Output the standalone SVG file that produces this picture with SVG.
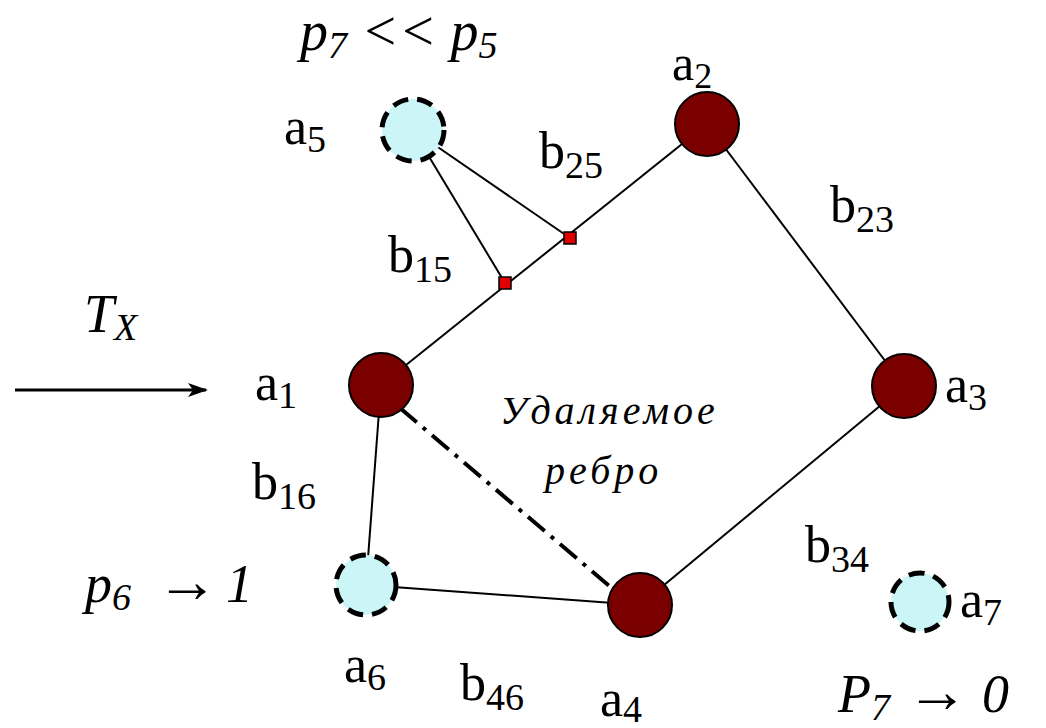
<svg xmlns="http://www.w3.org/2000/svg" width="1046" height="728" viewBox="0 0 1046 728">
<defs>
<style>
.e{stroke:#000;stroke-width:2;fill:none}
.dk{fill:#7a0000;stroke:#000;stroke-width:2}
.lt{fill:#ccf5f7;stroke:#000;stroke-width:5;stroke-dasharray:16 9}
.sq{fill:#e00000;stroke:#000;stroke-width:1.5}
</style>
<marker id="ah" viewBox="0 0 20 14" refX="18" refY="7" markerWidth="20" markerHeight="14" markerUnits="userSpaceOnUse" orient="auto">
<path d="M0,0 L20,7 L0,14 L5,7 Z" fill="#000"/>
</marker>
</defs>
<rect width="1046" height="728" fill="#fff"/>
<g id="connectors">
<line class="e" x1="381" y1="385" x2="707" y2="124"/>
<line class="e" x1="413" y1="130" x2="505" y2="283"/>
<line class="e" x1="413" y1="130" x2="570" y2="238"/>
<line class="e" x1="707" y1="124" x2="904" y2="386"/>
<line class="e" x1="904" y1="386" x2="640" y2="605"/>
<line class="e" x1="381" y1="385" x2="366" y2="585"/>
<line class="e" x1="366" y1="585" x2="640" y2="605"/>
<line x1="400" y1="408" x2="614" y2="590" stroke="#000" stroke-width="4" stroke-dasharray="22 8 4 8"/>
<line x1="15" y1="390" x2="206" y2="390" stroke="#000" stroke-width="3" marker-end="url(#ah)"/>
</g>
<g id="j1"><rect class="sq" x="499" y="277" width="12" height="12"/></g>
<g id="j2"><rect class="sq" x="564" y="232" width="12" height="12"/></g>
<g id="a1"><circle class="dk" cx="381" cy="385" r="32"/></g>
<g id="a2"><circle class="dk" cx="707" cy="124" r="32"/></g>
<g id="a3"><circle class="dk" cx="904" cy="386" r="32"/></g>
<g id="a4"><circle class="dk" cx="640" cy="605" r="32"/></g>
<g id="a5"><circle class="lt" cx="413" cy="130" r="31"/></g>
<g id="a6"><circle class="lt" cx="366" cy="585" r="30"/></g>
<g id="a7"><circle class="lt" cx="920" cy="602" r="29"/></g>
<g id="labels" font-family="Liberation Serif, DejaVu Serif, serif" font-size="50" fill="#000">
<text x="300" y="50" font-style="italic" font-size="56">p<tspan font-size="38" dy="8">7</tspan><tspan dy="-8"> &lt;&lt; p</tspan><tspan font-size="38" dy="8">5</tspan></text>
<text x="672" y="80">a<tspan font-size="36" dy="8">2</tspan></text>
<text x="284" y="144" font-size="52">a<tspan font-size="38" dy="8">5</tspan></text>
<text x="539" y="168" font-size="52">b<tspan font-size="38" dy="10">25</tspan></text>
<text x="830" y="222" font-size="52">b<tspan font-size="38" dy="10">23</tspan></text>
<text x="388" y="272" font-size="52">b<tspan font-size="38" dy="10">15</tspan></text>
<text x="84" y="332" font-style="italic" font-size="54">T<tspan font-size="38" dy="8">X</tspan></text>
<text x="255" y="400" font-size="52">a<tspan font-size="38" dy="8">1</tspan></text>
<text x="945" y="402" font-size="52">a<tspan font-size="38" dy="8">3</tspan></text>
<text x="500" y="424" font-style="italic" font-size="40" letter-spacing="4">Удаляемое</text>
<text x="545" y="484" font-style="italic" font-size="40" letter-spacing="4">ребро</text>
<text x="252" y="499" font-size="52">b<tspan font-size="38" dy="10">16</tspan></text>
<text x="85" y="602" font-style="italic" font-size="54">p<tspan font-size="38" dy="8">6</tspan><tspan x="156" dy="-8" font-size="62">→</tspan><tspan x="226">1</tspan></text>
<text x="805" y="562" font-size="52">b<tspan font-size="38" dy="10">34</tspan></text>
<text x="960" y="617" font-size="52">a<tspan font-size="38" dy="8">7</tspan></text>
<text x="344" y="682" font-size="52">a<tspan font-size="38" dy="8">6</tspan></text>
<text x="460" y="700" font-size="52">b<tspan font-size="38" dy="10">46</tspan></text>
<text x="600" y="716" font-size="52">a<tspan font-size="38" dy="6">4</tspan></text>
<text x="838" y="712" font-style="italic" font-size="54">P<tspan font-size="38" dy="8">7</tspan><tspan x="906" dy="-8" font-size="62">→</tspan><tspan x="982">0</tspan></text>
</g>
</svg>
